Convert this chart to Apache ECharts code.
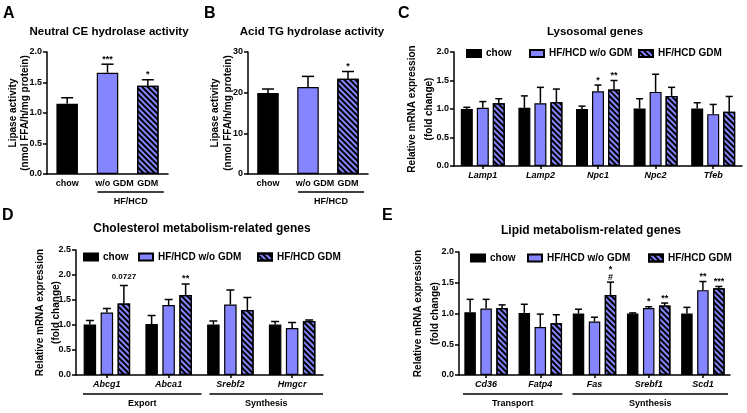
<!DOCTYPE html>
<html><head><meta charset="utf-8">
<script src="https://cdn.jsdelivr.net/npm/echarts@6/dist/echarts.min.js"></script>
<style>html,body{margin:0;padding:0;background:#fff}#c{width:747px;height:413px}</style>
</head><body><div id="c"></div>
<script>
// ---------------- DATA ----------------
const seriesNames = ['chow', 'HF/HCD w/o GDM', 'HF/HCD GDM'];
// Panel A: Neutral CE hydrolase activity
const catsAB = ['chow', 'w/o GDM', 'GDM'];
const meanA = [1.15, 1.66, 1.445];
const semA = [0.10, 0.14, 0.10];
const sigA = ['', '***', '*'];
const ticksA = ['0.0', '0.5', '1.0', '1.5', '2.0'];
// Panel B: Acid TG hydrolase activity
const meanB = [19.9, 21.4, 23.4];
const semB = [1.0, 2.6, 1.8];
const sigB = ['', '', '*'];
const ticksB = ['0', '10', '20', '30'];
// Panel C: Lysosomal genes
const catsC = ['Lamp1', 'Lamp2', 'Npc1', 'Npc2', 'Tfeb'];
const chowC = [1.00, 1.02, 1.00, 1.01, 1.01];
const chowSemC = [0.03, 0.21, 0.05, 0.17, 0.10];
const woC = [1.02, 1.10, 1.31, 1.30, 0.91];
const woSemC = [0.11, 0.28, 0.11, 0.31, 0.17];
const gdmC = [1.10, 1.12, 1.34, 1.23, 0.95];
const gdmSemC = [0.08, 0.23, 0.16, 0.15, 0.27];
const woSigC = ['', '', '*', '', ''];
const gdmSigC = ['', '', '**', '', ''];
const ticksC = ['0.0', '0.5', '1.0', '1.5', '2.0'];
// Panel D: Cholesterol metabolism-related genes
const catsD = ['Abcg1', 'Abca1', 'Srebf2', 'Hmgcr'];
const chowD = [1.01, 1.02, 1.01, 1.01];
const chowSemD = [0.08, 0.17, 0.07, 0.06];
const woD = [1.25, 1.40, 1.41, 0.94];
const woSemD = [0.08, 0.11, 0.29, 0.11];
const gdmD = [1.43, 1.60, 1.30, 1.08];
const gdmSemD = [0.36, 0.22, 0.25, 0.02];
const woSigD = ['', '', '', ''];
const gdmSigD = ['0.0727', '**', '', ''];
const ticksD = ['0.0', '0.5', '1.0', '1.5', '2.0', '2.5'];
const groupsD = [{label: 'Export', from: 0, to: 1}, {label: 'Synthesis', from: 2, to: 3}];
// Panel E: Lipid metabolism-related genes
const catsE = ['Cd36', 'Fatp4', 'Fas', 'Srebf1', 'Scd1'];
const chowE = [1.02, 1.01, 1.00, 1.00, 1.00];
const chowSemE = [0.21, 0.14, 0.07, 0.01, 0.10];
const woE = [1.08, 0.78, 0.87, 1.09, 1.38];
const woSemE = [0.15, 0.21, 0.07, 0.02, 0.14];
const gdmE = [1.09, 0.84, 1.30, 1.13, 1.41];
const gdmSemE = [0.05, 0.14, 0.21, 0.04, 0.03];
const woSigE = ['', '', '', '*', '**'];
const gdmSigE = ['', '', '*\n#', '**', '***'];
const ticksE = ['0.0', '0.5', '1.0', '1.5', '2.0'];
const groupsE = [{label: 'Transport', from: 0, to: 1}, {label: 'Synthesis', from: 2, to: 4}];

// ---------------- STYLE ----------------
const FONT = '"Liberation Sans", Arial, Helvetica, sans-serif';
const BLACK = '#000000';
const PURPLE = '#8585FF';
const HATCH = {symbol: 'rect', symbolSize: 1, dashArrayX: [1, 0], dashArrayY: [1.6, 1.8], rotation: Math.PI / 4, color: '#000'};
const styles = [
  {color: BLACK, borderColor: '#000', borderWidth: 1.2},
  {color: PURPLE, borderColor: '#000', borderWidth: 1.2},
  {color: PURPLE, borderColor: '#000', borderWidth: 1.2, decal: HATCH}
];

const grids = [
  {left: 47, top: 52, width: 121, height: 122},   // A
  {left: 248, top: 52, width: 120, height: 122},  // B
  {left: 454, top: 52, width: 288, height: 114},  // C
  {left: 76, top: 250, width: 247, height: 125},  // D
  {left: 459, top: 252, width: 271, height: 123}  // E
];

function yAxis(gi, ticks, name, nameGap, lh) {
  const vals = ticks.map(Number);
  return {
    type: 'value', gridIndex: gi, min: vals[0], max: vals[vals.length - 1],
    interval: vals[1] - vals[0],
    axisLine: {show: true, lineStyle: {color: '#000', width: 1.5}},
    axisTick: {show: true, length: 4, lineStyle: {color: '#000', width: 1.5}},
    axisLabel: {fontSize: 9, fontWeight: 'bold', color: '#000', fontFamily: FONT, margin: 5,
      formatter: v => ticks[Math.round((v - vals[0]) / (vals[1] - vals[0]))]},
    splitLine: {show: false},
    name: name, nameLocation: 'middle', nameGap: nameGap, nameRotate: 90, nameMoveOverlap: false,
    nameTextStyle: {fontSize: 10, fontWeight: 'bold', color: '#000', fontFamily: FONT, lineHeight: lh}
  };
}
function xAxis(gi, cats, italic, ticks) {
  return {
    type: 'category', gridIndex: gi, data: cats,
    axisLine: {lineStyle: {color: '#000', width: 1.5}},
    axisTick: {show: ticks, alignWithLabel: true, length: 3, lineStyle: {color: '#000', width: 1.5}},
    axisLabel: {fontSize: 9, fontWeight: 'bold', fontStyle: italic ? 'italic' : 'normal', color: '#000',
      fontFamily: FONT, margin: 5, interval: 0,
      formatter: v => v === 'w/o GDM' ? '{s|' + v + '}' : v,
      rich: {s: {fontSize: 9, fontWeight: 'bold', fontFamily: FONT, color: '#000', padding: [0, 0, 0, 14]}}}
  };
}
function errSeries(gi, means, sems, sigs, offset, capHalf) {
  return {
    type: 'custom', xAxisIndex: gi, yAxisIndex: gi, z: 5, silent: true,
    data: means.map((m, i) => [i, m, m + sems[i]]),
    renderItem(params, api) {
      const i = api.value(0);
      const p0 = api.coord([i, api.value(1)]);
      const p1 = api.coord([i, api.value(2)]);
      const x = p0[0] + offset;
      const ch = [
        {type: 'line', shape: {x1: x, y1: p0[1], x2: x, y2: p1[1]}, style: {stroke: '#000', lineWidth: 1.5}},
        {type: 'line', shape: {x1: x - capHalf, y1: p1[1], x2: x + capHalf, y2: p1[1]}, style: {stroke: '#000', lineWidth: 1.5}}
      ];
      const s = sigs[params.dataIndex];
      if (s) {
        const num = /\d/.test(s);
        ch.push({type: 'text', style: {text: s, x: x, y: p1[1] - (num ? 5 : 1), align: 'center', verticalAlign: 'bottom',
          fontSize: num ? 8 : 9, fontWeight: 'bold', fontFamily: FONT, fill: '#000', lineHeight: 8}});
      }
      return {type: 'group', children: ch};
    }
  };
}

const series = [];
// A and B: single series with per-item style
[[0, meanA, semA, sigA], [1, meanB, semB, sigB]].forEach(([gi, m, s, sg]) => {
  series.push({type: 'bar', name: 'P' + gi, xAxisIndex: gi, yAxisIndex: gi, barWidth: 21.5, z: 2,
    data: m.map((v, i) => ({value: v, itemStyle: styles[i]}))});
  series.push(errSeries(gi, m, s, sg, 0, 6));
});
// C, D, E grouped
function grouped(gi, arrs, sems, sigs, bw, gap, cap) {
  const pitch = bw + gap;
  arrs.forEach((a, k) => {
    series.push({type: 'bar', name: seriesNames[k], xAxisIndex: gi, yAxisIndex: gi, barWidth: bw,
      barGap: (gap / bw * 100) + '%', z: 2, itemStyle: styles[k], data: a});
  });
  arrs.forEach((a, k) => {
    series.push(errSeries(gi, a, sems[k], sigs[k], (k - 1) * pitch, cap));
  });
}
const none5 = ['', '', '', '', ''];
grouped(2, [chowC, woC, gdmC], [chowSemC, woSemC, gdmSemC], [none5, woSigC, gdmSigC], 12, 4, 3.5);
grouped(3, [chowD, woD, gdmD], [chowSemD, woSemD, gdmSemD], [['', '', '', ''], woSigD, gdmSigD], 12.5, 4.5, 4);
grouped(4, [chowE, woE, gdmE], [chowSemE, woSemE, gdmSemE], [none5, woSigE, gdmSigE], 11.5, 4.5, 3.5);

function titleAt(text, cx, cy, size) {
  return {text: text, left: cx, top: cy - size / 2 - 1, textAlign: 'center', padding: 0,
    textStyle: {fontSize: size, fontWeight: 'bold', color: '#000', fontFamily: FONT}};
}
function letter(t, x, y) {
  return {text: t, left: x, top: y, padding: 0, textStyle: {fontSize: 16, fontWeight: 'bold', color: '#000', fontFamily: FONT}};
}
function leg(name, left, cy) {
  return {data: [name], left: left, top: cy - 3.5, padding: 0, itemWidth: 14, itemHeight: 7, icon: 'rect',
    selectedMode: false, textStyle: {fontSize: 10, fontWeight: 'bold', color: '#000', fontFamily: FONT}};
}

const yName2 = 'Relative mRNA expression\n(fold change)';
const yNameL = 'Lipase activity\n(nmol FFA/h/mg protein)';

const option = {
  animation: false,
  backgroundColor: '#fff',
  title: [
    letter('A', 3, 6), letter('B', 204, 6), letter('C', 398, 6), letter('D', 2, 208), letter('E', 382, 208),
    titleAt('Neutral CE hydrolase activity', 109, 33, 11.5),
    titleAt('Acid TG hydrolase activity', 312, 33, 11.5),
    titleAt('Lysosomal genes', 595, 33, 11.5),
    titleAt('Cholesterol metabolism-related genes', 202, 230, 12),
    titleAt('Lipid metabolism-related genes', 591, 232, 12)
  ],
  legend: [
    leg(seriesNames[0], 466, 52), leg(seriesNames[1], 529, 52), leg(seriesNames[2], 638, 52),
    leg(seriesNames[0], 83, 255.5), leg(seriesNames[1], 138, 255.5), leg(seriesNames[2], 257, 255.5),
    leg(seriesNames[0], 470, 256.5), leg(seriesNames[1], 527, 256.5), leg(seriesNames[2], 648, 256.5)
  ],
  grid: grids,
  xAxis: [xAxis(0, catsAB, false, false), xAxis(1, catsAB, false, false), xAxis(2, catsC, true, true),
          xAxis(3, catsD, true, true), xAxis(4, catsE, true, true)],
  yAxis: [yAxis(0, ticksA, yNameL, 16, 12), yAxis(1, ticksB, yNameL, 13, 13), yAxis(2, ticksC, yName2, 16, 17),
          yAxis(3, ticksD, yName2, 12, 16), yAxis(4, ticksE, yName2, 15, 17)],
  series: series
};

const chart = echarts.init(document.getElementById('c'), null, {renderer: 'canvas'});
chart.setOption(option);

// Group brackets under the category axes, positioned from the axis scale
function catX(gi, i) { return chart.convertToPixel({xAxisIndex: gi}, i); }
const gfx = [];
function bracket(gi, x1, x2, label, yLine, yText) {
  gfx.push({type: 'line', shape: {x1: x1, y1: yLine, x2: x2, y2: yLine}, style: {stroke: '#000', lineWidth: 1.5}, silent: true});
  gfx.push({type: 'text', x: (x1 + x2) / 2, y: yText, style: {text: label, align: 'center', verticalAlign: 'middle',
    fontSize: 9, fontWeight: 'bold', fontFamily: FONT, fill: '#000'}, silent: true});
}
// A, B: HF/HCD over the two HF/HCD groups
[0, 1].forEach(gi => {
  const bt = grids[gi].top + grids[gi].height;
  bracket(gi, catX(gi, 1) - 10, catX(gi, 2) + 16, 'HF/HCD', bt + 18, bt + 28);
});
function groupBrackets(gi, groups, padL, padR) {
  const bw = catX(gi, 1) - catX(gi, 0);
  const bt = grids[gi].top + grids[gi].height;
  groups.forEach((g, k) => {
    const x1 = catX(gi, g.from) - bw / 2 + padL[k];
    const x2 = catX(gi, g.to) + bw / 2 - padR[k];
    bracket(gi, x1, x2, g.label, bt + 19, bt + 29);
  });
}
groupBrackets(3, groupsD, [7, 10], [-2, 0]);
groupBrackets(4, groupsE, [4, 5], [5, 2]);
chart.setOption({graphic: gfx});
</script></body></html>
